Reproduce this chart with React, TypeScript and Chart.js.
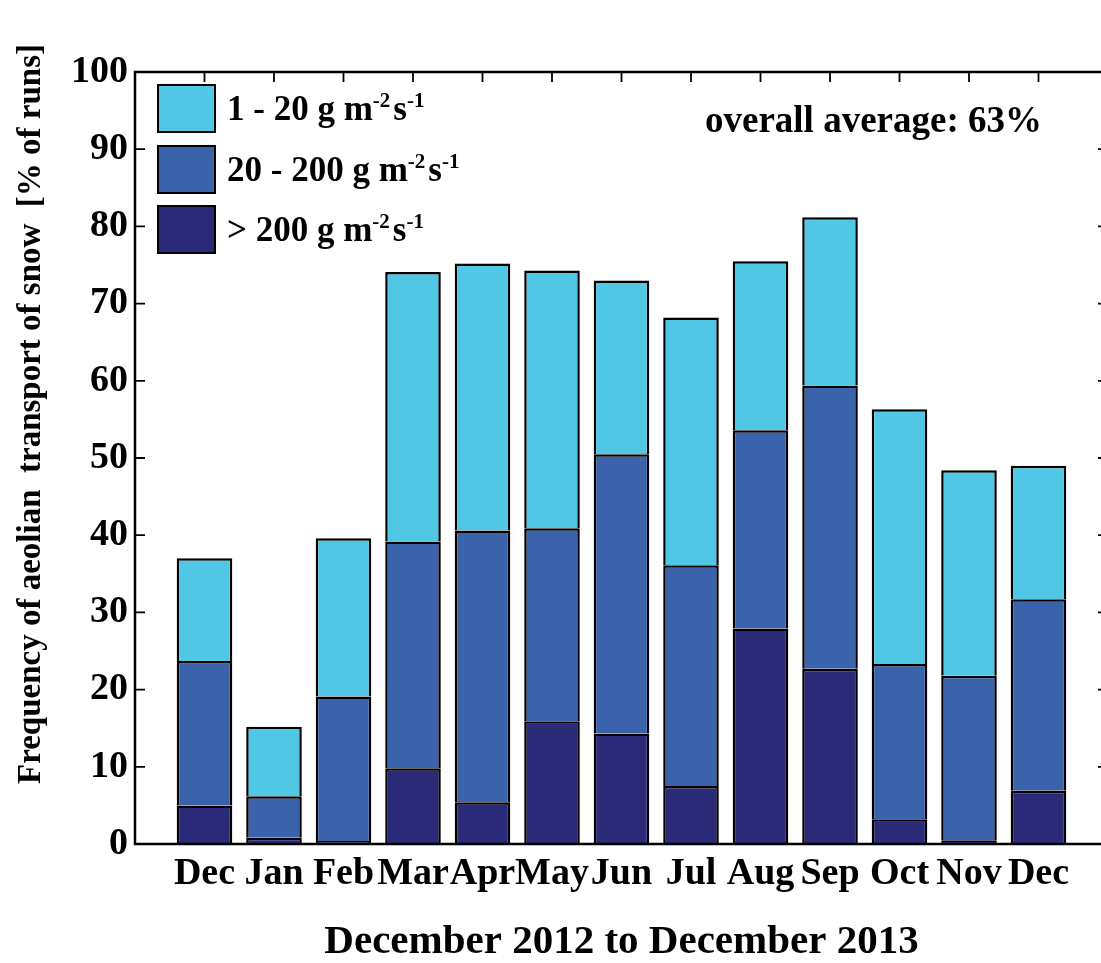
import React, { useEffect, useRef } from "react";
import { Chart, registerables } from "chart.js";

Chart.register(...registerables);

const months = ["Dec", "Jan", "Feb", "Mar", "Apr", "May", "Jun", "Jul", "Aug", "Sep", "Oct", "Nov", "Dec"];
// segment heights (% of runs)
const above200 = [5.0, 0.8, 0.4, 9.8, 5.4, 15.9, 14.3, 7.5, 27.9, 22.7, 3.2, 0.5, 6.9];
const from20to200 = [18.7, 5.4, 18.7, 29.4, 35.2, 25.0, 36.2, 28.6, 25.7, 36.7, 20.1, 21.3, 24.8];
const from1to20 = [13.3, 9.0, 20.5, 34.9, 34.6, 33.4, 22.5, 32.1, 21.9, 21.8, 33.0, 26.6, 17.3];
const yTicks = [0, 10, 20, 30, 40, 50, 60, 70, 80, 90, 100];

const COLORS = { light: "#4FC7E5", mid: "#3B63AC", dark: "#2A2A78" };
const FONT = "'Liberation Serif', 'Times New Roman', serif";

const legendItems = [
  { color: COLORS.light, text: "1 - 20 g m" },
  { color: COLORS.mid, text: "20 - 200 g m" },
  { color: COLORS.dark, text: "> 200 g m" },
];

const toXY = (arr: number[]) => arr.map((v, i) => ({ x: i + 1, y: v }));

const framePlugin = {
  id: "frameAndText",
  afterDatasetsDraw(chart: any) {
    const { ctx, chartArea } = chart;
    const { left, right, top, bottom } = chartArea;
    const xs = chart.scales.x;
    const ys = chart.scales.y;
    ctx.save();
    ctx.strokeStyle = "#000";
    ctx.lineWidth = 2.5;
    ctx.strokeRect(left, top, right - left, bottom - top);
    ctx.lineWidth = 1.8;
    ctx.beginPath();
    yTicks.forEach((v) => {
      const y = ys.getPixelForValue(v);
      ctx.moveTo(left, y);
      ctx.lineTo(left + 10, y);
      ctx.moveTo(right, y);
      ctx.lineTo(right - 10, y);
    });
    months.forEach((_, i) => {
      const x = xs.getPixelForValue(i + 1);
      ctx.moveTo(x, top);
      ctx.lineTo(x, top + 10);
    });
    ctx.stroke();

    // legend
    const boxL = 158, boxW = 57, boxH = 47;
    const boxTops = [85, 146, 206];
    legendItems.forEach((it, i) => {
      const bt = boxTops[i];
      ctx.fillStyle = it.color;
      ctx.fillRect(boxL, bt, boxW, boxH);
      ctx.lineWidth = 2;
      ctx.strokeStyle = "#000";
      ctx.strokeRect(boxL, bt, boxW, boxH);
      const base = bt + boxH / 2 + 11;
      let x = 227;
      ctx.fillStyle = "#000";
      ctx.textAlign = "left";
      ctx.textBaseline = "alphabetic";
      ctx.font = `bold 35px ${FONT}`;
      ctx.fillText(it.text, x, base);
      x += ctx.measureText(it.text).width;
      ctx.font = `bold 21px ${FONT}`;
      ctx.fillText("-2", x, base - 13);
      x += ctx.measureText("-2").width + 3;
      ctx.font = `bold 35px ${FONT}`;
      ctx.fillText("s", x, base);
      x += ctx.measureText("s").width;
      ctx.font = `bold 21px ${FONT}`;
      ctx.fillText("-1", x, base - 13);
    });

    // annotation
    ctx.font = `bold 37px ${FONT}`;
    ctx.fillStyle = "#000";
    ctx.textAlign = "left";
    ctx.fillText("overall average: 63%", 705, 132);

    // y title
    ctx.save();
    ctx.translate(40, 414);
    ctx.rotate(-Math.PI / 2);
    ctx.font = `bold 33px ${FONT}`;
    ctx.textAlign = "center";
    ctx.textBaseline = "alphabetic";
    ctx.fillText("Frequency of aeolian  transport of snow  [% of runs]", 0, 0);
    ctx.restore();
    ctx.restore();
  },
};

export default function App() {
  const ref = useRef<HTMLCanvasElement>(null);
  useEffect(() => {
    if (!ref.current) return;
    const common = {
      borderColor: "#000",
      borderWidth: { top: 2.5, left: 2.5, right: 2.5, bottom: 0 },
      borderSkipped: false as any,
      barPercentage: 0.8,
      categoryPercentage: 1,
    };
    const chart = new Chart(ref.current, {
      type: "bar",
      data: {
        datasets: [
          { label: "> 200 g m-2 s-1", data: toXY(above200), backgroundColor: COLORS.dark, ...common },
          { label: "20 - 200 g m-2 s-1", data: toXY(from20to200), backgroundColor: COLORS.mid, ...common },
          { label: "1 - 20 g m-2 s-1", data: toXY(from1to20), backgroundColor: COLORS.light, ...common },
        ],
      },
      options: {
        animation: false,
        responsive: false,
        devicePixelRatio: 1,
        layout: { padding: { left: 0, right: 12, top: 72, bottom: 0 } },
        plugins: { legend: { display: false }, tooltip: { enabled: false }, title: { display: false } },
        scales: {
          x: {
            type: "linear",
            min: 0,
            max: 14,
            offset: false,
            stacked: true,
            grid: { display: false, drawTicks: false, offset: false },
            border: { display: false },
            afterBuildTicks: (scale: any) => {
              scale.ticks = months.map((_, i) => ({ value: i + 1 }));
            },
            afterFit: (scale: any) => {
              scale.height = 119;
            },
            ticks: {
              autoSkip: false,
              maxRotation: 0,
              color: "#000",
              padding: 7,
              font: { family: FONT, size: 38, weight: "bold" },
              callback: (_v: any, i: number) => months[i],
            },
            title: {
              display: true,
              text: "December 2012 to December 2013",
              color: "#000",
              font: { family: FONT, size: 41, weight: "bold", lineHeight: 1 },
              padding: { top: 0, bottom: 0 },
            },
          },
          y: {
            min: 0,
            max: 100,
            stacked: true,
            grid: { display: false, drawTicks: false },
            border: { display: false },
            afterFit: (scale: any) => {
              scale.width = 135;
            },
            afterBuildTicks: (scale: any) => {
              scale.ticks = yTicks.map((v) => ({ value: v }));
            },
            ticks: {
              color: "#000",
              padding: 7,
              font: { family: FONT, size: 38, weight: "bold" },
            },
          },
        },
      },
      plugins: [framePlugin],
    });
    return () => chart.destroy();
  }, []);
  return (
    <div style={{ position: "fixed", left: 0, top: 0, width: 1101, height: 963, overflow: "hidden", background: "#fff" }}>
      <canvas ref={ref} width={1120} height={963} style={{ width: 1120, height: 963, display: "block" }} />
    </div>
  );
}
